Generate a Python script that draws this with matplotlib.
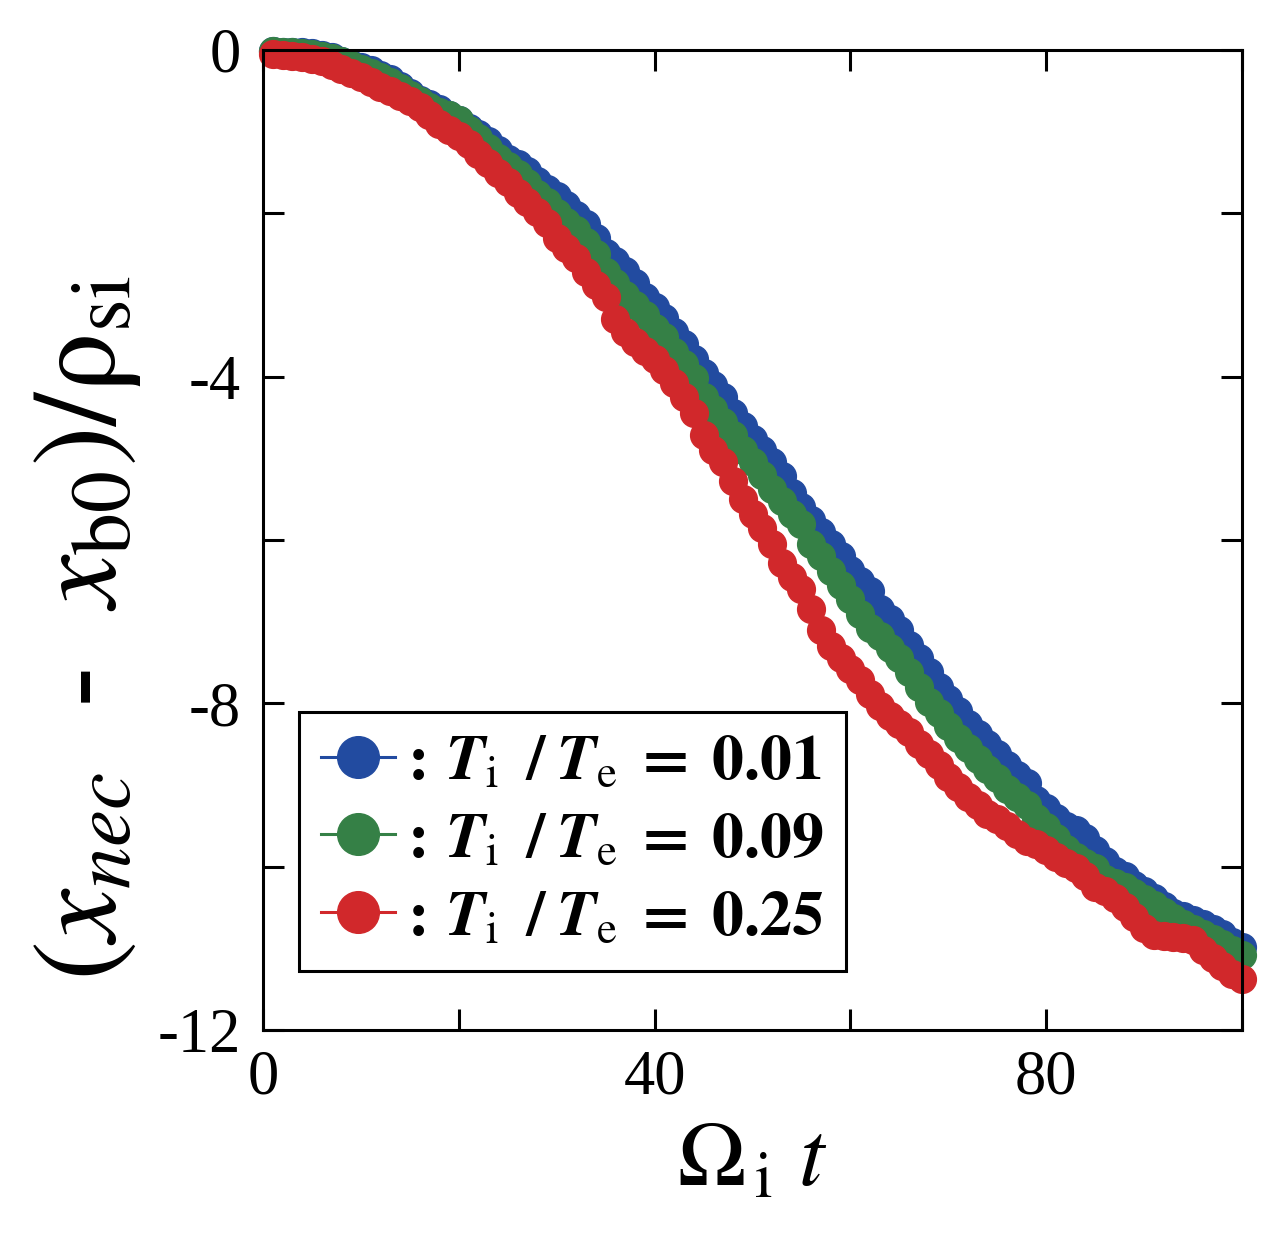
import matplotlib
matplotlib.use("Agg")
import matplotlib.pyplot as plt
from matplotlib.lines import Line2D

plt.rcParams["font.family"] = ["Liberation Serif", "DejaVu Serif"]
plt.rcParams["mathtext.fontset"] = "stix"

# ── Data ──────────────────────────────────────────────────────────────────────
t = list(range(1, 101))

ratio_labels = ["0.01", "0.09", "0.25"]

shift_001 = [
    -0.01, -0.02, -0.02, -0.03, -0.04, -0.06, -0.09, -0.13, -0.17, -0.21,
    -0.25, -0.30, -0.36, -0.44, -0.53, -0.61, -0.66, -0.72, -0.79, -0.86,
    -0.95, -1.03, -1.12, -1.23, -1.33, -1.40, -1.48, -1.60, -1.70, -1.79,
    -1.90, -2.02, -2.13, -2.30, -2.48, -2.58, -2.70, -2.85, -3.03, -3.15,
    -3.28, -3.45, -3.60, -3.78, -3.95, -4.10, -4.25, -4.45, -4.60, -4.76,
    -4.90, -5.05, -5.22, -5.43, -5.60, -5.75, -5.90, -6.05, -6.20, -6.37,
    -6.50, -6.62, -6.85, -6.97, -7.10, -7.28, -7.45, -7.62, -7.80, -7.95,
    -8.10, -8.25, -8.38, -8.50, -8.62, -8.75, -8.88, -8.98, -9.18, -9.28,
    -9.40, -9.50, -9.55, -9.65, -9.80, -9.93, -10.05, -10.12, -10.22, -10.30,
    -10.38, -10.48, -10.57, -10.60, -10.65, -10.70, -10.76, -10.83, -10.92, -10.98,
]

shift_009 = [
    -0.01, -0.02, -0.03, -0.04, -0.05, -0.07, -0.10, -0.14, -0.18, -0.23,
    -0.28, -0.33, -0.39, -0.46, -0.55, -0.63, -0.70, -0.76, -0.80, -0.86,
    -0.98, -1.08, -1.20, -1.32, -1.42, -1.52, -1.63, -1.76, -1.86, -2.00,
    -2.10, -2.20, -2.35, -2.50, -2.72, -2.85, -3.00, -3.12, -3.25, -3.40,
    -3.52, -3.70, -3.85, -4.02, -4.25, -4.40, -4.55, -4.72, -4.90, -5.05,
    -5.20, -5.38, -5.52, -5.68, -5.80, -6.05, -6.20, -6.38, -6.55, -6.72,
    -6.90, -7.08, -7.18, -7.32, -7.45, -7.62, -7.80, -7.98, -8.12, -8.28,
    -8.42, -8.55, -8.68, -8.80, -8.92, -9.05, -9.15, -9.25, -9.40, -9.52,
    -9.65, -9.78, -9.88, -9.95, -10.02, -10.15, -10.20, -10.25, -10.32, -10.40,
    -10.47, -10.55, -10.63, -10.70, -10.76, -10.82, -10.88, -10.95, -11.02, -11.08,
]

shift_025 = [
    -0.05, -0.06, -0.07, -0.09, -0.11, -0.14, -0.18, -0.23, -0.28, -0.33,
    -0.39, -0.45, -0.50, -0.56, -0.62, -0.70, -0.80, -0.90, -0.98, -1.05,
    -1.15, -1.27, -1.38, -1.50, -1.62, -1.75, -1.86, -1.98, -2.12, -2.30,
    -2.42, -2.55, -2.72, -2.88, -3.02, -3.30, -3.45, -3.58, -3.68, -3.78,
    -3.92, -4.08, -4.25, -4.45, -4.72, -4.90, -5.05, -5.28, -5.50, -5.68,
    -5.85, -6.05, -6.28, -6.45, -6.60, -6.85, -7.10, -7.30, -7.45, -7.58,
    -7.72, -7.88, -8.03, -8.15, -8.25, -8.35, -8.50, -8.62, -8.75, -8.90,
    -9.02, -9.15, -9.25, -9.35, -9.42, -9.50, -9.60, -9.68, -9.72, -9.80,
    -9.88, -9.95, -10.02, -10.12, -10.25, -10.30, -10.38, -10.50, -10.62, -10.75,
    -10.84, -10.85, -10.86, -10.87, -10.90, -11.02, -11.12, -11.22, -11.32, -11.38,
]

COLORS = ["#224BA0", "#358046", "#D1282B"]

# ── Figure ────────────────────────────────────────────────────────────────────
fig = plt.figure(figsize=(12.8, 12.37), dpi=100)
ax = fig.add_axes([263 / 1280, 1 - 1030 / 1237, 979 / 1280, 980 / 1237])

for ys, c in zip([shift_001, shift_009, shift_025], COLORS):
    ax.plot(t, ys, "-o", color=c, lw=2, ms=20, mec=c, clip_on=False)

ax.set_xlim(0, 100)
ax.set_ylim(-12, 0)

ax.set_xticks(range(0, 101, 20))
ax.set_xticklabels(["0", "", "40", "", "80", ""])
ax.set_yticks(range(-12, 1, 2))
ax.set_yticklabels(["-12", "", "-8", "", "-4", "", "0"])

ax.tick_params(direction="in", length=15, width=2.2, top=True, right=True,
               labelsize=45)
ax.tick_params(axis="x", pad=14)
ax.tick_params(axis="y", pad=16)
for s in ax.spines.values():
    s.set_linewidth(2.2)

fig.text(752 / 1280, 1 - 1162 / 1237, r"$\Omega_{\,\mathrm{i}}\ t$",
         fontsize=66, ha="center", va="center")
fig.text(88 / 1280, 1 - 628 / 1237,
         r"$(x_{nec}$  -  $x_{\mathrm{b0}})/\mathrm{ρ}_{\mathrm{si}}$",
         fontsize=86, ha="center", va="center", rotation=90)

# ── Legend ────────────────────────────────────────────────────────────────────
handles = [Line2D([], [], color=c, lw=2.2, marker="o", ms=30, mec=c)
           for c in COLORS]
labels = [r"$\mathbf{:}\,\mathbfit{T}_{\mathrm{i}}\;\;\mathbf{/}\;\mathbfit{T}_{\mathrm{e}}\;\mathbf{=}\;\mathbf{%s}$" % r
          for r in ratio_labels]
leg = ax.legend(handles, labels, loc="lower left",
                bbox_to_anchor=(36 / 979, 59 / 980), borderaxespad=0,
                fontsize=46, handlelength=1.15, handletextpad=0.05,
                labelspacing=0.3, borderpad=0.35, fancybox=False,
                framealpha=1, edgecolor="black")
leg.get_frame().set_linewidth(2.2)

fig.savefig("out.png", dpi=100, facecolor="white")
